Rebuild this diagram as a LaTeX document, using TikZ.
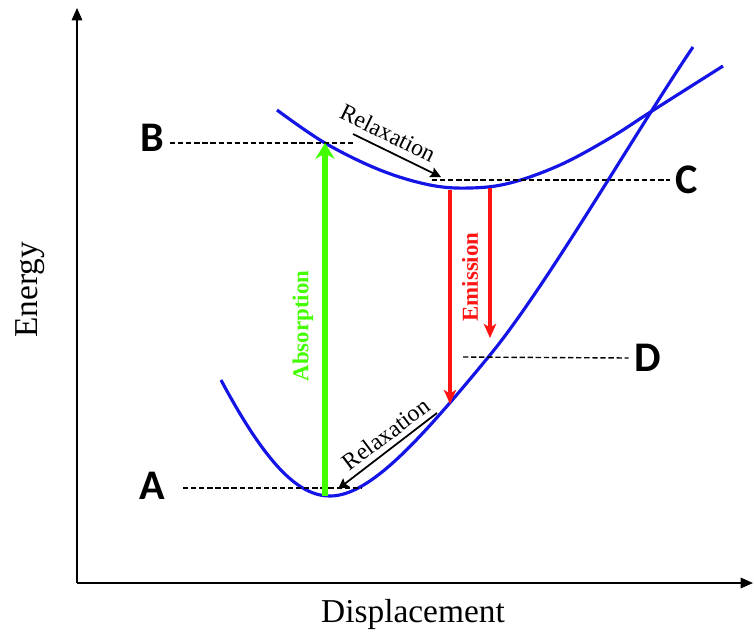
\documentclass[tikz,border=0pt]{standalone}
\usepackage{fontspec}
\setmainfont{Liberation Serif}
\newfontfamily\lblfont{Carlito}
\usetikzlibrary{arrows.meta, positioning, calc}
\definecolor{absgreen}{RGB}{68,255,0}
\definecolor{emred}{RGB}{255,20,20}
\definecolor{curveblue}{RGB}{20,20,230}
\begin{document}
\begin{tikzpicture}[x=0.02cm,y=-0.02cm,>=stealth]
\tikzset{
  axis/.style={thick,-{Triangle[length=7pt,width=6pt]}},
  level/.style={black,line width=0.8pt,dash pattern=on 3pt off 1.6pt},
  curve/.style={curveblue,line width=1.8pt},
  absarrow/.style={absgreen,line width=3.2pt,-{Stealth[length=9pt,width=11pt,inset=3pt]}},
  emarrow/.style={emred,line width=1.8pt,-{Stealth[length=8pt,width=7pt,inset=2pt]}},
  relarrow/.style={black,line width=1pt,-{Stealth[length=6pt,width=6pt,inset=1pt]}},
  statelbl/.style={font=\lblfont\bfseries\fontsize{24}{24}\selectfont},
  axislbl/.style={font=\fontsize{19}{19}\selectfont},
  arrowlbl/.style={font=\bfseries\fontsize{13}{13}\selectfont},
  rellbl/.style={font=\fontsize{13.5}{14}\selectfont,inner sep=1pt}
}
\useasboundingbox (0,0) rectangle (754,637);
% axes
\coordinate (origin) at (77,583);
\coordinate (ytop) at (77,8);
\coordinate (xend) at (753,583);
\draw[axis] (origin) -- (ytop);
\draw[axis] (origin) -- (xend);
\node[axislbl,rotate=90] (energy) at (30,290) {Energy};
\node[axislbl] (displ) at (413,614) {Displacement};
% potential curves
\draw[curve] (221,380) .. controls (268,468) and (300,496) .. (330,496)
  .. controls (370,496) and (420,440) .. (490,355)
  .. controls (546,287) and (640,125) .. (693,47);
\draw[curve] plot[smooth,tension=0.6] coordinates {(277,110) (325,143) (380,170) (430,185) (470,188) (510,183) (560,165) (610,138) (652,111) (723,66)};
% levels
\node[statelbl] (B) at (152,138) {B};
\node[statelbl] (C) at (687,180) {C};
\node[statelbl] (D) at (648,358) {D};
\node[statelbl] (A) at (152,486) {A};
\coordinate (Bend) at (355,143);
\coordinate (Cstart) at (432,180);
\coordinate (Dstart) at (463,357);
\coordinate (Aend) at (362,488);
\draw[level] (B.east) ++(0,5) -- (Bend);
\draw[level] (Cstart) -- (C.west);
\draw[level] (Dstart) -- (D.west);
\draw[level] (A.east) ++(12,2) -- (Aend);
% absorption
\coordinate (absbot) at (325,496);
\coordinate (abstop) at (325,143);
\draw[absarrow] (absbot) -- (abstop);
\node[arrowlbl,absgreen,rotate=90] (abslbl) at (303,326) {Absorption};
% emission
\coordinate (em1top) at (450,190);
\coordinate (em1bot) at (450,404);
\coordinate (em2top) at (490,188);
\coordinate (em2bot) at (490,338);
\draw[emarrow] (em1top) -- (em1bot);
\draw[emarrow] (em2top) -- (em2bot);
\node[arrowlbl,emred,rotate=90] (emlbl) at (470,277) {Emission};
% relaxation
\coordinate (rel1a) at (353,134);
\coordinate (rel1b) at (441,177);
\draw[relarrow] (rel1a) -- (rel1b);
\node[rellbl,rotate=-26] (rel1lbl) at (388,133) {Relaxation};
\coordinate (rel2a) at (437,413);
\coordinate (rel2b) at (338,489);
\draw[relarrow] (rel2a) -- (rel2b);
\node[rellbl,rotate=37] (rel2lbl) at (386,434) {Relaxation};
\end{tikzpicture}
\end{document}
